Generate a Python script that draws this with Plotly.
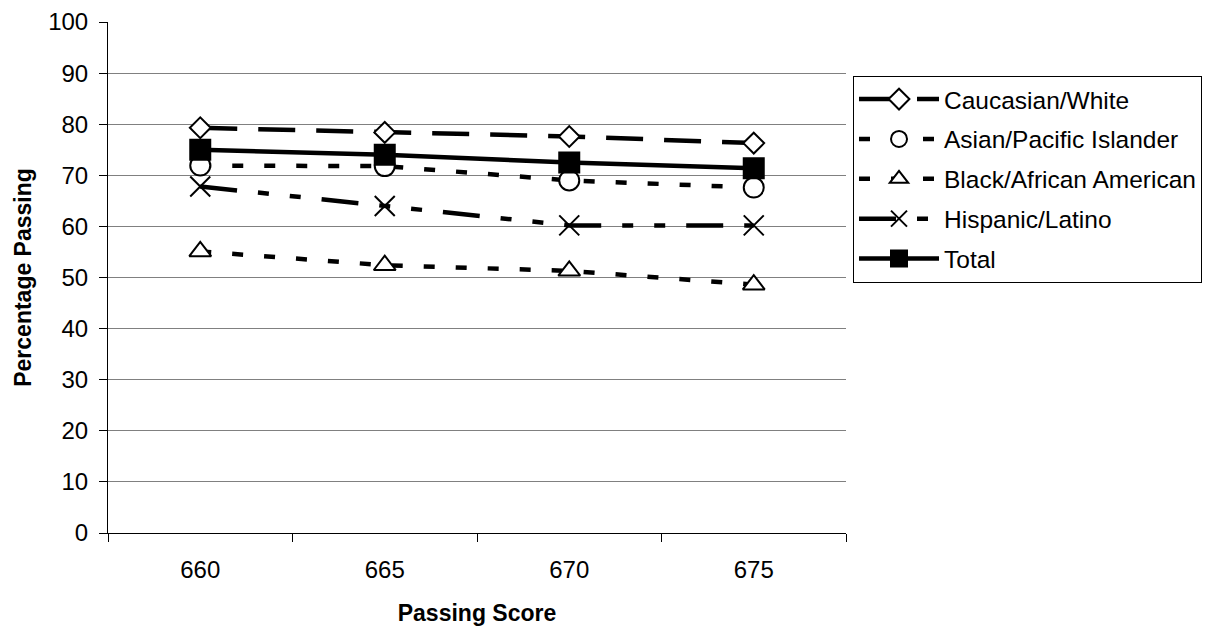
import plotly.graph_objects as go

scores = ["660", "665", "670", "675"]
caucasian = [79.3, 78.4, 77.6, 76.3]
asian = [71.9, 71.8, 69.0, 67.6]
black = [55.1, 52.4, 51.3, 48.6]
hispanic = [67.8, 64.0, 60.2, 60.2]
total = [75.0, 74.0, 72.5, 71.4]

names = ["Caucasian/White", "Asian/Pacific Islander", "Black/African American",
         "Hispanic/Latino", "Total"]
series = [caucasian, asian, black, hispanic, total]

styles = [
    dict(dash="37px,21px", symbol="diamond", size=16, fill="white"),
    dict(dash="11px,21px", symbol="circle", size=20, fill="white"),
    dict(dash="11px,21px", symbol="triangle-up", size=19, fill="white"),
    dict(dash="37px,21px,11px,21px,11px,21px", symbol="x-thin", size=20, fill="black"),
    dict(dash="solid", symbol="square", size=20, fill="black"),
]

fig = go.Figure()
for i, (nm, vals, st) in enumerate(zip(names, series, styles)):
    fig.add_trace(go.Scatter(
        x=scores, y=vals, name=nm, mode="lines+markers",
        legendgroup=f"g{i}",
        line=dict(color="black", width=4.5, dash=st["dash"]),
        marker=dict(symbol=st["symbol"], size=st["size"], color=st["fill"],
                    line=dict(color="black", width=2)),
    ))

font_family = "Liberation Sans, Arial, sans-serif"
fig.update_layout(
    width=1209, height=626,
    margin=dict(l=108, r=363, t=22, b=93, autoexpand=False),
    paper_bgcolor="white", plot_bgcolor="white",
    font=dict(family=font_family, size=24, color="black"),
    showlegend=True,
    legend=dict(
        x=1.0095, xanchor="left", y=0.895, yanchor="top",
        bordercolor="black", borderwidth=1, bgcolor="white",
        font=dict(size=24.5, color="black"),
        traceorder="grouped", tracegroupgap=5,
        itemwidth=80,
    ),
    xaxis=dict(
        type="category", range=[-0.5, 3.5], automargin=False,
        showline=True, linecolor="black", linewidth=1,
        ticks="outside", tickson="boundaries", ticklen=8, tickcolor="black",
        showgrid=False, ticklabelstandoff=15,
        title=dict(text="<b>Passing Score</b>", standoff=24,
                   font=dict(size=23)),
    ),
    yaxis=dict(
        range=[0, 100], dtick=10, automargin=False,
        showline=True, linecolor="black", linewidth=1,
        ticks="outside", ticklen=8, tickcolor="black",
        showgrid=True, gridcolor="#808080", gridwidth=1,
        zeroline=False, ticklabelstandoff=6,
        title=dict(text="<b>Percentage Passing</b>", standoff=10,
                   font=dict(size=23)),
    ),
)

fig.write_html("out.html")
